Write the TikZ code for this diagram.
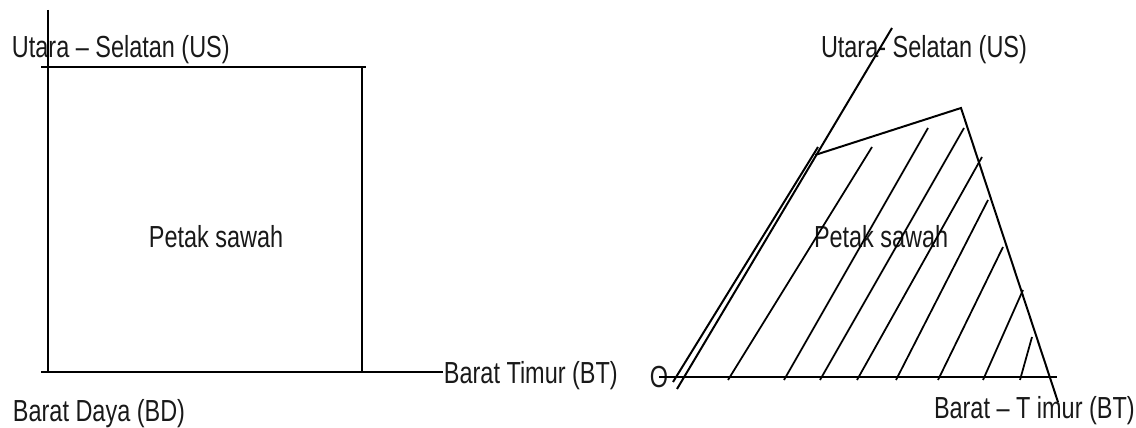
\documentclass[tikz,border=0pt]{standalone}
\usepackage{fontspec}
\setmainfont{Liberation Sans}[FakeStretch=0.77]
\usepackage{tikz}
\newcommand{\sawahfont}{\linespread{1}\fontsize{26}{30}\selectfont}
\tikzset{
    sawah/plot/.style={x=0.03cm, y=-0.03cm, font=\sawahfont, line width=1.7pt},
    sawah/edge/.style={draw=black, line cap=butt},
    sawah/hatch/.style={draw=black, line width=1.5pt},
    sawah/label/.style={inner sep=0pt, text=black!90}
}
\begin{document}
\begin{tikzpicture}[sawah/plot]
    \useasboundingbox (0,0) rectangle (1136,428);
    % petak kiri
    \node[sawah/label, anchor=base west] (usleft) at (11,58) {Utara -- Selatan (US)};
    \node[sawah/label, anchor=base west] (petakleft) at (148,248) {Petak sawah};
    \node[sawah/label, anchor=base west] (bd) at (12,421) {Barat Daya (BD)};
    \node[sawah/label, anchor=base west] (btleft) at (443,384) {Barat Timur (BT)};
    \draw[sawah/edge] (48,10) -- (48,372);
    \draw[sawah/edge] (41,67) -- (366,67);
    \draw[sawah/edge] (362,67) -- (362,372);
    \draw[sawah/edge] (41,372) -- (btleft.west |- 0,372);
    % petak kanan
    \node[sawah/label, anchor=base west] (usright) at (820,58) {Utara- Selatan (US)};
    \node[sawah/label, anchor=base west] (petakright) at (813,248) {Petak sawah};
    \node[sawah/label, anchor=base west] (btright) at (933,419) {Barat -- T imur (BT)};
    \node[sawah/label] (o) at (659,377) {O};
    \draw[sawah/edge] (892,28) -- (677,389);
    \draw[sawah/edge] (o.center) -- (1057,377);
    \draw[sawah/edge] (673,382) -- (818,147);
    \draw[sawah/edge] (815,155) -- (961,108) -- (1058,402);
    % arsiran
    \draw[sawah/hatch] (728,380) -- (872,147);
    \draw[sawah/hatch] (784,380) -- (928,128);
    \draw[sawah/hatch] (820,380) -- (964,128);
    \draw[sawah/hatch] (857,380) -- (982,157);
    \draw[sawah/hatch] (896,380) -- (988,200);
    \draw[sawah/hatch] (938,380) -- (1003,247);
    \draw[sawah/hatch] (983,380) -- (1023,290);
    \draw[sawah/hatch] (1020,380) -- (1032,337);
\end{tikzpicture}
\end{document}
